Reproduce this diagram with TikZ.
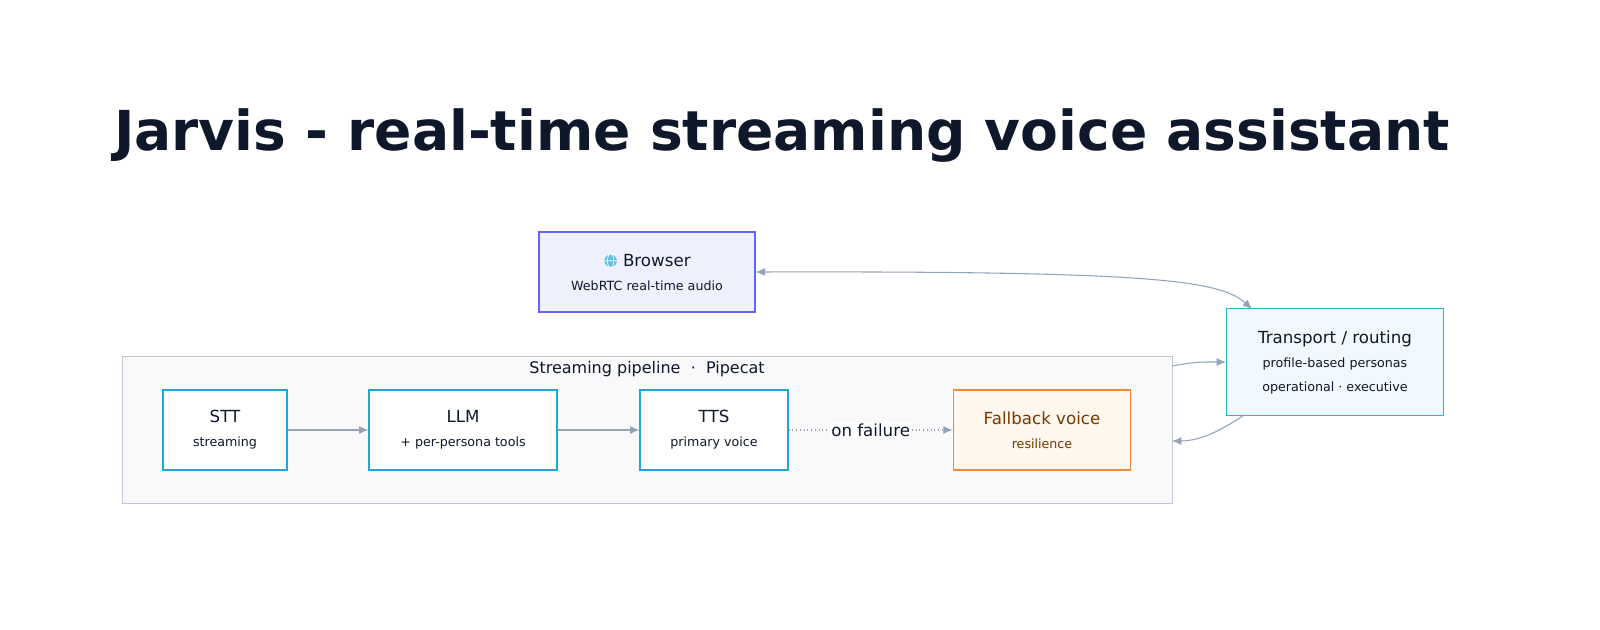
\documentclass[tikz,border=0pt]{standalone}
\usepackage{fontspec}
\setmainfont{DejaVu Sans}
\usetikzlibrary{positioning,arrows.meta}
\definecolor{ink}{HTML}{0F172A}
\definecolor{wire}{HTML}{94A3B8}
\definecolor{sky}{HTML}{22A6D9}
\definecolor{indigo}{HTML}{6366F1}
\definecolor{teal}{HTML}{22B8C8}
\definecolor{amber}{HTML}{EE8A3A}
\newcommand{\globe}{\tikz[baseline=-0.6ex,line width=0.5pt]{\fill[sky!70] (0,0) circle (0.75ex);
  \draw[white] (0,0) circle (0.75ex) (-0.75ex,0) -- (0.75ex,0) (0,0) ellipse (0.35ex and 0.75ex);}}
\begin{document}
\begin{tikzpicture}[x=0.75pt,y=-0.75pt,
  box/.style={draw=sky,fill=white,line width=1pt,align=center,text=ink,minimum height=60pt},
  link/.style={draw=wire,line width=0.8pt,-{Latex[length=7pt,width=6pt]}}]
  \newcommand{\ttl}{\fontsize{12.5}{15}\selectfont}
  \newcommand{\sub}{\fontsize{9.5}{12}\selectfont}

  \node[text=ink,font=\fontsize{41.3}{46}\selectfont\bfseries] (title) at (782,136) {Jarvis - real-time streaming voice assistant};

  % pipeline group
  \node[draw=wire!60,fill=wire!6,line width=0.6pt,minimum width=787.5pt,minimum height=110pt] (pipe) at (647,430) {};
  \node[text=ink,font=\fontsize{12}{14}\selectfont] (pipelbl) at (647,369) {Streaming pipeline~~·~~Pipecat};

  % stages
  \node[box,minimum width=93pt] (stt) at (225,430) {{\ttl STT}\\[6pt]{\sub streaming}};
  \node[box,minimum width=141pt] (llm) at (463,430) {{\ttl LLM}\\[6pt]{\sub + per-persona tools}};
  \node[box,minimum width=111pt] (tts) at (714,430) {{\ttl TTS}\\[6pt]{\sub primary voice}};
  \node[box,draw=amber,fill=orange!7,text=orange!45!black,minimum width=133pt] (fallback) at (1042,430) {{\ttl Fallback voice}\\[6pt]{\sub resilience}};

  \node[box,draw=indigo,fill=indigo!10,minimum width=162pt] (browser) at (647,272) {{\ttl \globe{} Browser}\\[6pt]{\sub WebRTC real-time audio}};
  \node[box,draw=teal,fill=cyan!6,minimum width=163pt,minimum height=80pt] (transport) at (1335,362) {{\ttl Transport / routing}\\[6pt]{\sub profile-based personas}\\[6pt]{\sub operational · executive}};

  \coordinate (pipeout) at (1172,366);
  \coordinate (pipein) at (1172,441);
  \coordinate (trtop) at (1252,309);
  \coordinate (trleft) at (1226,362);
  \coordinate (trlow) at (1244,415);

  \draw[link] (stt) -- (llm);
  \draw[link] (llm) -- (tts);
  \draw[link,dotted] (tts) -- node[fill=white,text=ink,inner sep=1pt,font=\fontsize{12.5}{14}\selectfont] {on failure} (fallback);
  \draw[link,{Latex[length=7pt,width=6pt]}-{Latex[length=7pt,width=6pt]}] (browser.east) .. controls (1150,271) and (1220,280) .. (trtop);
  \draw[link] (pipeout) .. controls (1195,362) .. (trleft);
  \draw[link] (trlow) .. controls (1215,435) and (1195,441) .. (pipein);

  \pgfresetboundingbox
  \useasboundingbox (0,0) rectangle (1600,629);
\end{tikzpicture}
\end{document}
